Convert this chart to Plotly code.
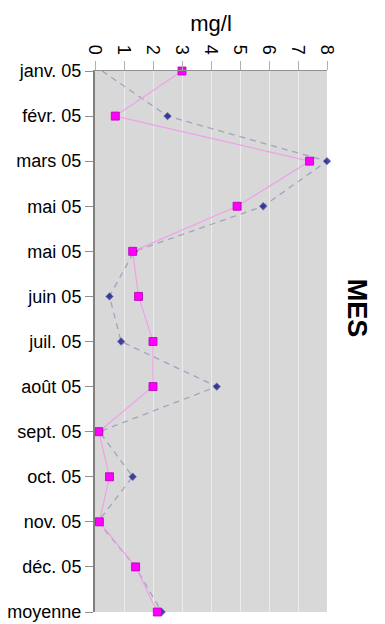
import plotly.graph_objects as go

categories = ["janv. 05", "févr. 05", "mars 05", "mai 05", "mai 05", "juin 05",
              "juil. 05", "août 05", "sept. 05", "oct. 05", "nov. 05", "déc. 05", "moyenne"]
series_pink = [3.0, 0.7, 7.4, 4.9, 1.3, 1.5, 2.0, 2.0, 0.13, 0.5, 0.15, 1.4, 2.15]
series_blue = [0.25, 2.5, 8.0, 5.8, 1.35, 0.5, 0.9, 4.2, 0.15, 1.3, 0.1, 1.4, 2.3]
x_ticks = [0, 1, 2, 3, 4, 5, 6, 7, 8]

pos = list(range(len(categories)))
blue_sizes = [0] + [6] * (len(categories) - 1)

fig = go.Figure()
fig.add_trace(go.Scatter(
    x=series_blue, y=pos, mode="lines+markers",
    line=dict(color="rgba(110,110,170,0.5)", width=1.3, dash="6px,5px"),
    marker=dict(symbol="diamond", size=blue_sizes, color="#000080"),
    cliponaxis=False, showlegend=False))
fig.add_trace(go.Scatter(
    x=series_pink, y=pos, mode="lines+markers",
    line=dict(color="#f0a0ea", width=1.2),
    marker=dict(symbol="square", size=8, color="#ff00ff",
                line=dict(color="#b000b0", width=0.8)),
    cliponaxis=False, showlegend=False))

fig.update_layout(
    width=385, height=624,
    margin=dict(l=95, r=58, t=71, b=12),
    paper_bgcolor="white", plot_bgcolor="#d8d8d8",
    font=dict(family="Liberation Sans, Arial, sans-serif", color="black"),
    xaxis=dict(side="top", range=[0, 8], tickvals=x_ticks, automargin=False,
               ticktext=[str(v) for v in x_ticks], tickangle=90,
               tickfont=dict(size=18), showgrid=True, gridcolor="#ececec",
               gridwidth=1, zeroline=False, showline=True, linecolor="#909090",
               linewidth=1, ticks="outside", ticklen=9, tickcolor="#b0b0b0",
               title=dict(text="mg/l", font=dict(size=22), standoff=6)),
    yaxis=dict(range=[12, 0], tickvals=pos, ticktext=categories, automargin=False,
               tickfont=dict(size=18), showgrid=False, zeroline=False,
               showline=True, linecolor="#808080", linewidth=2,
               ticks="outside", ticklen=8, tickcolor="#909090"),
    annotations=[dict(text="<b>MES</b>", textangle=90, x=1.13, y=0.562,
                      xanchor="center", yanchor="middle",
                      xref="paper", yref="paper", showarrow=False,
                      font=dict(size=27, color="black"))],
)

fig.write_html("out.html")
